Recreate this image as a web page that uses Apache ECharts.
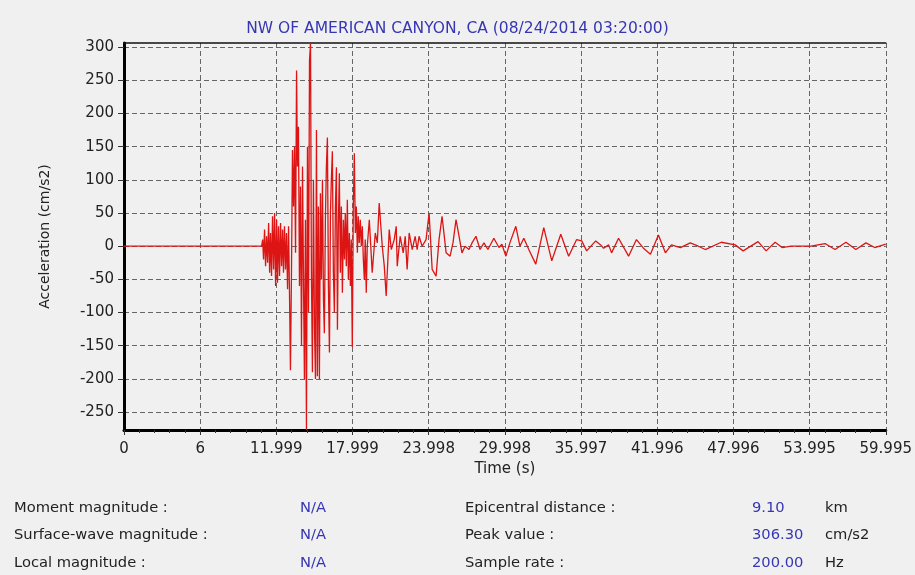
<!DOCTYPE html>
<html>
<head>
<meta charset="utf-8">
<script src="https://cdn.jsdelivr.net/npm/echarts@6.0.0/dist/echarts.min.js"></script>
<style>
  html, body { margin: 0; padding: 0; background: #f0f0f0; }
  #graph { width: 915px; height: 575px; }
</style>
</head>
<body>
<div id="graph"></div>
<script>
// time (s) and acceleration (cm/s2), turning points
var times = [0, 10.84, 10.92, 10.99, 11.07, 11.15, 11.23, 11.31, 11.39, 11.47, 11.54, 11.62,
  11.70, 11.78, 11.86, 11.94, 12.02, 12.09, 12.17, 12.25, 12.33, 12.41, 12.49, 12.56,
  12.64, 12.72, 12.80, 12.88, 12.96, 13.04, 13.11, 13.19, 13.27, 13.35, 13.43, 13.51,
  13.59, 13.66, 13.74, 13.82, 13.90, 13.98, 14.06, 14.14, 14.21, 14.29, 14.37, 14.45,
  14.53, 14.61, 14.69, 14.76, 14.84, 14.92, 15.00, 15.08, 15.16, 15.23, 15.31, 15.39,
  15.47, 15.55, 15.63, 15.71, 15.78, 15.86, 15.94, 16.02, 16.10, 16.18, 16.26, 16.33,
  16.41, 16.49, 16.57, 16.65, 16.73, 16.81, 16.88, 16.96, 17.04, 17.12, 17.20, 17.28,
  17.36, 17.43, 17.51, 17.59, 17.67, 17.75, 17.83, 17.90, 17.98, 18.06, 18.14, 18.22,
  18.30, 18.38, 18.45, 18.53, 18.61, 18.69, 18.77, 18.85, 18.93, 19.00, 19.08, 19.16,
  19.32, 19.55, 19.79, 19.95, 20.10, 20.34, 20.50, 20.65, 20.89, 21.05, 21.28, 21.44,
  21.52, 21.75, 21.99, 22.15, 22.30, 22.46, 22.70, 22.93, 23.09, 23.24, 23.48, 23.79,
  24.03, 24.27, 24.58, 24.81, 25.05, 25.37, 25.68, 25.91, 26.15, 26.39, 26.62, 26.86,
  27.17, 27.41, 27.72, 28.04, 28.35, 28.66, 29.13, 29.53, 29.76, 30.08, 30.39, 30.86,
  31.18, 31.49, 31.88, 32.43, 33.06, 33.69, 34.40, 35.02, 35.65, 36.05, 36.44, 37.15,
  37.54, 37.77, 38.17, 38.40, 38.95, 39.74, 40.36, 40.91, 41.46, 42.09, 42.64, 43.11,
  43.82, 44.60, 45.23, 45.78, 47.04, 48.14, 48.76, 49.94, 50.57, 51.28, 51.83, 52.54,
  54.11, 55.21, 56.00, 56.86, 57.64, 58.43, 59.13, 59.995];

var accel = [0, 0, 10, -20, 25, -30, 15, -25, 35, -40, 20, -45,
  45, -35, 50, -60, 40, -55, 30, -45, 35, -30, 25, -40,
  30, -35, 20, -65, 30, -80, -187, -40, 145, 60, 150, -10,
  265, 120, 180, -60, 90, -150, 120, -60, -200, 40, -277, 150,
  -100, 280, 306.3, -40, -190, 100, -120, -200, 175, -196, 60, -200,
  80, -50, 100, -80, -131, 40, 120, 164, -60, -160, 50, 100,
  143, -40, -100, 60, 119, -126, 30, 110, -40, 60, -70, 40,
  -20, 50, -30, 70, -50, 20, -60, 10, -152, 60, 140, 20,
  60, -10, 45, 5, 40, 0, 30, -20, -51, 10, -70, 0,
  40, -40, 20, 5, 65, 0, -30, -75, 25, -5, 10, 30,
  -30, 15, -10, 15, -35, 20, -5, 15, -5, 15, 0, 10,
  50, -35, -45, 10, 45, -10, -15, 5, 40, 15, -10, 0,
  -5, 5, 15, -5, 5, -5, 12, -2, 3, -15, 5, 30,
  0, 12, -5, -27, 28, -22, 18, -15, 10, 8, -7, 8,
  2, -3, 2, -10, 12, -15, 10, -3, -12, 17, -10, 2,
  -2, 5, 0, -5, 6, 2, -7, 7, -7, 6, -2, 0,
  0, 4, -5, 6, -5, 5, -2, 3];

var xStep = 5.9995;
var xTickLabels = ['0', '6', '11.999', '17.999', '23.998', '29.998', '35.997', '41.996', '47.996', '53.995', '59.995'];
var yTicks = [-250, -200, -150, -100, -50, 0, 50, 100, 150, 200, 250, 300];

var infoLeft = ['Moment magnitude :', 'Surface-wave magnitude :', 'Local magnitude :'];
var infoLeftValues = ['N/A', 'N/A', 'N/A'];
var infoRight = ['Epicentral distance :', 'Peak value :', 'Sample rate :'];
var infoRightValues = ['9.10', '306.30', '200.00'];
var infoRightUnits = ['km', 'cm/s2', 'Hz'];

var font = 'DejaVu Sans';
var blue = '#3636b4';

var myChart = echarts.init(document.getElementById('graph'));

var graphics = [];
var rowY = [510, 537, 565];
var infoFont = '14.7px ' + font;
for (var i = 0; i < 3; i++) {
  graphics.push({ type: 'text', left: 14, top: rowY[i] - 9, style: { text: infoLeft[i], font: infoFont, fill: '#222' } });
  graphics.push({ type: 'text', left: 300, top: rowY[i] - 9, style: { text: infoLeftValues[i], font: infoFont, fill: blue } });
  graphics.push({ type: 'text', left: 465, top: rowY[i] - 9, style: { text: infoRight[i], font: infoFont, fill: '#222' } });
  graphics.push({ type: 'text', left: 752, top: rowY[i] - 9, style: { text: infoRightValues[i], font: infoFont, fill: blue } });
  graphics.push({ type: 'text', left: 825, top: rowY[i] - 9, style: { text: infoRightUnits[i], font: infoFont, fill: '#222' } });
}

var option = {
  backgroundColor: '#f0f0f0',
  animation: false,
  title: {
    text: 'NW OF AMERICAN CANYON, CA (08/24/2014 03:20:00)',
    left: 'center',
    top: 16,
    textStyle: { color: blue, fontFamily: font, fontSize: 15.5, fontWeight: 'normal' }
  },
  grid: { left: 124, right: 27, top: 43, bottom: 145 },
  xAxis: [{
    type: 'value',
    min: 0,
    max: 59.995,
    interval: xStep,
    name: 'Time (s)',
    nameLocation: 'middle',
    nameGap: 28,
    nameTextStyle: { color: '#222', fontFamily: font, fontSize: 15 },
    axisLine: { onZero: false, lineStyle: { color: '#000', width: 3 } },
    axisTick: { length: 5, lineStyle: { color: '#333' } },
    minorTick: { show: true, splitNumber: 5, length: 3, lineStyle: { color: '#333' } },
    axisLabel: {
      color: '#222', fontFamily: font, fontSize: 15, margin: 12,
      formatter: function (v) { return xTickLabels[Math.round(v / xStep)]; }
    },
    splitLine: { show: true, lineStyle: { color: '#666', type: [5, 3], width: 1 } }
  }, {
    type: 'value',
    position: 'top',
    min: 0,
    max: 59.995,
    axisLine: { show: true, onZero: false, lineStyle: { color: '#111', width: 1.5 } },
    axisTick: { show: false },
    axisLabel: { show: false },
    splitLine: { show: false }
  }],
  yAxis: {
    type: 'value',
    min: -277,
    max: 306.3,
    name: 'Acceleration (cm/s2)',
    nameLocation: 'middle',
    nameRotate: 90,
    nameGap: 72,
    nameTextStyle: { color: '#222', fontFamily: font, fontSize: 14 },
    axisLine: { show: true, onZero: false, lineStyle: { color: '#000', width: 3 } },
    axisTick: { show: true, length: 6, customValues: yTicks, lineStyle: { color: '#333' } },
    axisLabel: { color: '#222', fontFamily: font, fontSize: 15, margin: 10, customValues: yTicks },
    splitLine: { show: true, lineStyle: { color: '#666', type: [5, 3], width: 1 } }
  },
  graphic: graphics,
  series: [{
    type: 'line',
    data: times.map(function (t, i) { return [t, accel[i]]; }),
    showSymbol: false,
    lineStyle: { color: '#dd1414', width: 1.3 },
    silent: true
  }]
};

myChart.setOption(option);
</script>
</body>
</html>
